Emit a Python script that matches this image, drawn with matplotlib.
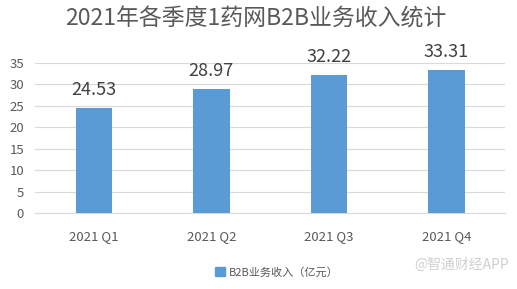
import matplotlib
matplotlib.use("Agg")
import matplotlib.pyplot as plt
from matplotlib.patches import Patch

plt.rcParams['font.family'] = ['Noto Sans CJK SC', 'DejaVu Sans']

categories = ["2021 Q1", "2021 Q2", "2021 Q3", "2021 Q4"]
values = [24.53, 28.97, 32.22, 33.31]
yticks = [0, 5, 10, 15, 20, 25, 30, 35]
title = "2021年各季度1药网B2B业务收入统计"
legend_label = "B2B业务收入（亿元）"

fig = plt.figure(figsize=(5.17, 2.89), dpi=100)
ax = fig.add_axes([0.068, 0.263, 0.909, 0.52])
x = range(len(categories))
ax.bar(x, values, width=0.31, color="#5B9BD5", zorder=3)
for xi, v in zip(x, values):
    ax.text(xi, v + 2.0, f"{v:.2f}", ha="center", va="bottom", fontsize=13, color="#404040")
ax.set_xlim(-0.5, 3.5)
ax.set_ylim(0, 35)
ax.set_yticks(yticks)
ax.set_xticks(list(x))
ax.set_xticklabels(categories)
ax.tick_params(axis="both", length=0, labelsize=9.5, labelcolor="#595959")
ax.tick_params(axis="x", pad=12)
ax.tick_params(axis="y", pad=8)
ax.grid(axis="y", color="#D9D9D9", linewidth=0.8, zorder=0)
for s in ["top", "right", "left"]:
    ax.spines[s].set_visible(False)
ax.spines["bottom"].set_color("#D9D9D9")

fig.text(0.495, 0.935, title, ha="center", va="center", fontsize=16.5, color="#595959")
fig.legend(handles=[Patch(color="#5B9BD5")], labels=[legend_label], loc="center",
           bbox_to_anchor=(0.535, 0.058), frameon=False, fontsize=8, handlelength=0.9,
           handleheight=0.9, handletextpad=0.3, labelcolor="#595959")
fig.text(0.985, 0.085, "@智通财经APP", ha="right", va="center", fontsize=10, color="#D0D0D0")
fig.savefig("out.png", dpi=100)
